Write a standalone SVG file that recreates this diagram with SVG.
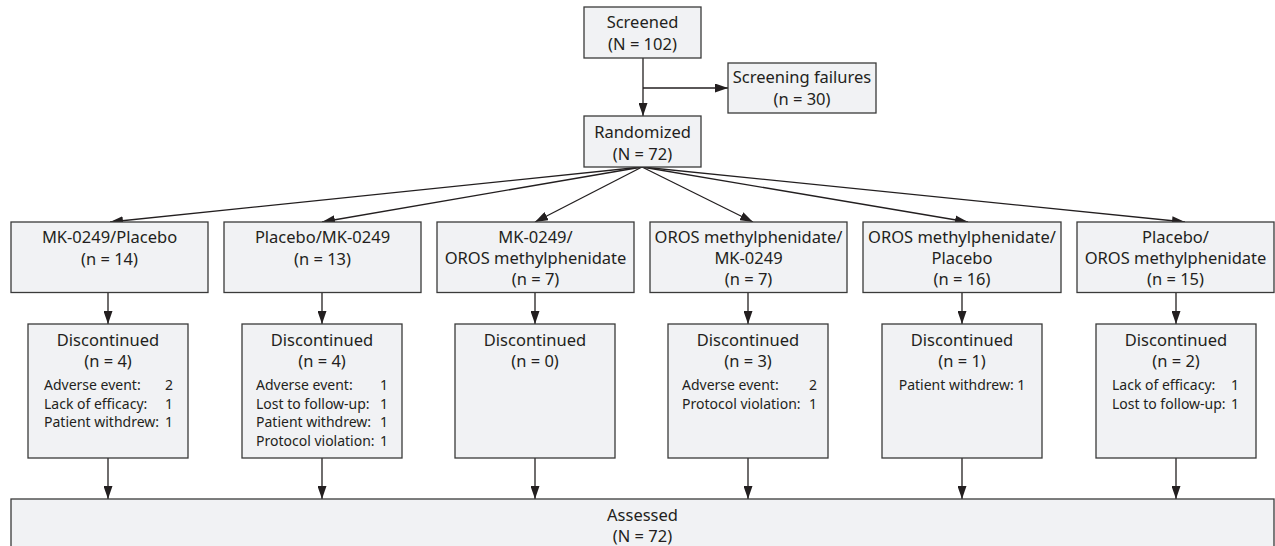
<svg xmlns="http://www.w3.org/2000/svg" width="1275" height="546" viewBox="0 0 1275 546">
<style>
.box{fill:#f1f2f4;stroke:#3a3a3a;stroke-width:1.3}
.t{font-family:"Noto Sans","Liberation Sans",sans-serif;font-size:16.5px;fill:#231f20;text-anchor:middle}
.d{font-family:"Noto Sans","Liberation Sans",sans-serif;font-size:14px;fill:#231f20}
.e{text-anchor:end}
.c{fill:none;stroke:#231f20;stroke-width:1.3}
</style>
<defs>
<marker id="ah" markerUnits="userSpaceOnUse" markerWidth="14" markerHeight="9" refX="13" refY="4.5" orient="auto">
<path d="M0,0 L13,4.5 L0,9 z" fill="#231f20"/>
</marker>
</defs>
<g id="connectors">
<line class="c" x1="643" y1="58" x2="643" y2="116" marker-end="url(#ah)"/>
<line class="c" x1="643" y1="88" x2="728" y2="88" marker-end="url(#ah)"/>
<line class="c" x1="642" y1="167" x2="110" y2="222" marker-end="url(#ah)"/>
<line class="c" x1="642" y1="167" x2="322" y2="222" marker-end="url(#ah)"/>
<line class="c" x1="642" y1="167" x2="535" y2="222" marker-end="url(#ah)"/>
<line class="c" x1="642" y1="167" x2="753" y2="222" marker-end="url(#ah)"/>
<line class="c" x1="642" y1="167" x2="968" y2="222" marker-end="url(#ah)"/>
<line class="c" x1="642" y1="167" x2="1185" y2="222" marker-end="url(#ah)"/>
<line class="c" x1="108" y1="292.5" x2="108" y2="324" marker-end="url(#ah)"/>
<line class="c" x1="322" y1="292.5" x2="322" y2="324" marker-end="url(#ah)"/>
<line class="c" x1="535" y1="292.5" x2="535" y2="324" marker-end="url(#ah)"/>
<line class="c" x1="748" y1="292.5" x2="748" y2="324" marker-end="url(#ah)"/>
<line class="c" x1="962" y1="292.5" x2="962" y2="324" marker-end="url(#ah)"/>
<line class="c" x1="1176" y1="292.5" x2="1176" y2="324" marker-end="url(#ah)"/>
<line class="c" x1="108" y1="458" x2="108" y2="499" marker-end="url(#ah)"/>
<line class="c" x1="322" y1="458" x2="322" y2="499" marker-end="url(#ah)"/>
<line class="c" x1="535" y1="458" x2="535" y2="499" marker-end="url(#ah)"/>
<line class="c" x1="748" y1="458" x2="748" y2="499" marker-end="url(#ah)"/>
<line class="c" x1="962" y1="458" x2="962" y2="499" marker-end="url(#ah)"/>
<line class="c" x1="1176" y1="458" x2="1176" y2="499" marker-end="url(#ah)"/>
</g>
<g id="screened">
<rect class="box" x="584" y="7" width="117" height="51"/>
<text class="t" x="642.5" y="28">Screened</text>
<text class="t" x="642.5" y="50">(N = 102)</text>
</g>
<g id="failures">
<rect class="box" x="728" y="63" width="148" height="50"/>
<text class="t" x="802" y="83">Screening failures</text>
<text class="t" x="802" y="105">(n = 30)</text>
</g>
<g id="randomized">
<rect class="box" x="584" y="116" width="117" height="51"/>
<text class="t" x="642.5" y="138">Randomized</text>
<text class="t" x="642.5" y="160">(N = 72)</text>
</g>
<g id="arm1">
<rect class="box" x="11" y="222" width="197" height="70.5"/>
<text class="t" x="109.5" y="243">MK-0249/Placebo</text>
<text class="t" x="109.5" y="265">(n = 14)</text>
</g>
<g id="arm2">
<rect class="box" x="224" y="222" width="197" height="70.5"/>
<text class="t" x="322.5" y="243">Placebo/MK-0249</text>
<text class="t" x="322.5" y="265">(n = 13)</text>
</g>
<g id="arm3">
<rect class="box" x="437" y="222" width="197" height="70.5"/>
<text class="t" x="535.5" y="243">MK-0249/</text>
<text class="t" x="535.5" y="264">OROS methylphenidate</text>
<text class="t" x="535.5" y="285">(n = 7)</text>
</g>
<g id="arm4">
<rect class="box" x="650" y="222" width="197" height="70.5"/>
<text class="t" x="748.5" y="243">OROS methylphenidate/</text>
<text class="t" x="748.5" y="264">MK-0249</text>
<text class="t" x="748.5" y="285">(n = 7)</text>
</g>
<g id="arm5">
<rect class="box" x="863" y="222" width="198" height="70.5"/>
<text class="t" x="962" y="243">OROS methylphenidate/</text>
<text class="t" x="962" y="264">Placebo</text>
<text class="t" x="962" y="285">(n = 16)</text>
</g>
<g id="arm6">
<rect class="box" x="1077" y="222" width="197" height="70.5"/>
<text class="t" x="1175.5" y="243">Placebo/</text>
<text class="t" x="1175.5" y="264">OROS methylphenidate</text>
<text class="t" x="1175.5" y="285">(n = 15)</text>
</g>
<g id="disc1">
<rect class="box" x="28" y="324" width="160" height="134"/>
<text class="t" x="108" y="346">Discontinued</text>
<text class="t" x="108" y="367">(n = 4)</text>
<text class="d" y="390"><tspan x="44">Adverse event:</tspan><tspan class="e" x="173">2</tspan></text>
<text class="d" y="408.7"><tspan x="44">Lack of efficacy:</tspan><tspan class="e" x="173">1</tspan></text>
<text class="d" y="427.3"><tspan x="44">Patient withdrew:</tspan><tspan class="e" x="173">1</tspan></text>
</g>
<g id="disc2">
<rect class="box" x="242" y="324" width="160" height="134"/>
<text class="t" x="322" y="346">Discontinued</text>
<text class="t" x="322" y="367">(n = 4)</text>
<text class="d" y="390"><tspan x="256">Adverse event:</tspan><tspan class="e" x="388">1</tspan></text>
<text class="d" y="408.7"><tspan x="256">Lost to follow-up:</tspan><tspan class="e" x="388">1</tspan></text>
<text class="d" y="427.3"><tspan x="256">Patient withdrew:</tspan><tspan class="e" x="388">1</tspan></text>
<text class="d" y="446"><tspan x="256">Protocol violation:</tspan><tspan class="e" x="388">1</tspan></text>
</g>
<g id="disc3">
<rect class="box" x="455" y="324" width="160" height="134"/>
<text class="t" x="535" y="346">Discontinued</text>
<text class="t" x="535" y="367">(n = 0)</text>
</g>
<g id="disc4">
<rect class="box" x="668" y="324" width="160" height="134"/>
<text class="t" x="748" y="346">Discontinued</text>
<text class="t" x="748" y="367">(n = 3)</text>
<text class="d" y="390"><tspan x="682">Adverse event:</tspan><tspan class="e" x="817">2</tspan></text>
<text class="d" y="408.7"><tspan x="682">Protocol violation:</tspan><tspan class="e" x="817">1</tspan></text>
</g>
<g id="disc5">
<rect class="box" x="882" y="324" width="160" height="134"/>
<text class="t" x="962" y="346">Discontinued</text>
<text class="t" x="962" y="367">(n = 1)</text>
<text class="d" x="962" y="390" text-anchor="middle">Patient withdrew: 1</text>
</g>
<g id="disc6">
<rect class="box" x="1096" y="324" width="160" height="134"/>
<text class="t" x="1176" y="346">Discontinued</text>
<text class="t" x="1176" y="367">(n = 2)</text>
<text class="d" y="390"><tspan x="1112">Lack of efficacy:</tspan><tspan class="e" x="1239">1</tspan></text>
<text class="d" y="408.7"><tspan x="1112">Lost to follow-up:</tspan><tspan class="e" x="1239">1</tspan></text>
</g>
<g id="assessed">
<rect class="box" x="11" y="499" width="1263" height="52"/>
<text class="t" x="642.5" y="521">Assessed</text>
<text class="t" x="642.5" y="542">(N = 72)</text>
</g>
</svg>
